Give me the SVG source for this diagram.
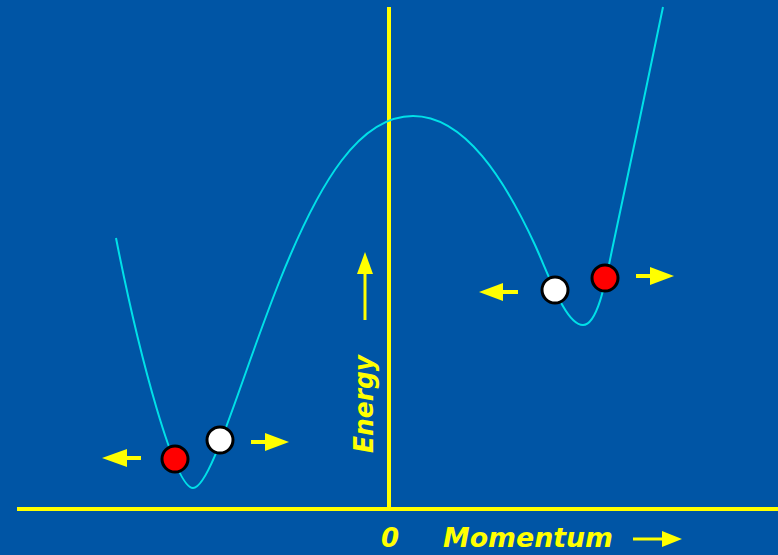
<svg xmlns="http://www.w3.org/2000/svg" width="778" height="555" viewBox="0 0 778 555">
<style>
.axis{stroke:#ffff00;stroke-width:4;fill:none}
.curve{stroke:#00e0e8;stroke-width:2;fill:none}
.shaft{stroke:#ffff00;stroke-width:4;fill:none}
.head{fill:#ffff00}
.ball{stroke:#000;stroke-width:3}
.red{fill:#ff0000}
.white{fill:#ffffff}
.lbl{fill:#ffff00;font-family:"DejaVu Sans",sans-serif;font-weight:bold;font-style:italic}
</style>
<rect width="778" height="555" fill="#0055a5"/>
<g id="axes">
<line class="axis" x1="17" y1="509" x2="778" y2="509"/>
<line class="axis" x1="389" y1="7" x2="389" y2="511"/>
</g>
<g id="curve">
<path class="curve" d="M116,238 C140,360 175,488 193,488 C211,488 240,380 280,280 C320,180 360,116 413,116 C465,116 505,180 535,245 C550,278 566,325 583,325 C597,325 605,285 612,250 C625,190 650,70 663,7"/>
</g>
<g id="connectors">
<g id="arrow-left-low"><line class="shaft" x1="141" y1="458" x2="122" y2="458"/><polygon class="head" points="102,458 127,449 127,467"/></g>
<g id="arrow-right-low"><line class="shaft" x1="251" y1="442" x2="270" y2="442"/><polygon class="head" points="289,442 265,433 265,451"/></g>
<g id="arrow-left-high"><line class="shaft" x1="518" y1="292" x2="499" y2="292"/><polygon class="head" points="479,292 503,283 503,301"/></g>
<g id="arrow-right-high"><line class="shaft" x1="636" y1="276" x2="655" y2="276"/><polygon class="head" points="674,276 650,267 650,285"/></g>
<g id="arrow-energy"><line class="shaft" x1="365" y1="320" x2="365" y2="270" style="stroke-width:3"/><polygon class="head" points="365,252 357,274 373,274"/></g>
<g id="arrow-momentum"><line class="shaft" x1="633" y1="539" x2="668" y2="539" style="stroke-width:3"/><polygon class="head" points="682,539 662,531 662,547"/></g>
</g>
<g id="ball-red-low"><circle class="ball red" cx="175" cy="459" r="13"/></g>
<g id="ball-white-low"><circle class="ball white" cx="220" cy="440" r="13"/></g>
<g id="ball-white-high"><circle class="ball white" cx="555" cy="290" r="13"/></g>
<g id="ball-red-high"><circle class="ball red" cx="605" cy="278" r="13"/></g>
<g id="labels">
<text class="lbl" x="0" y="0" font-size="26" transform="translate(373,453) rotate(-90)" textLength="98" lengthAdjust="spacingAndGlyphs">Energy</text>
<text class="lbl" x="381" y="547" font-size="26">0</text>
<text class="lbl" x="443" y="547" font-size="26" textLength="170" lengthAdjust="spacingAndGlyphs">Momentum</text>
</g>
</svg>
